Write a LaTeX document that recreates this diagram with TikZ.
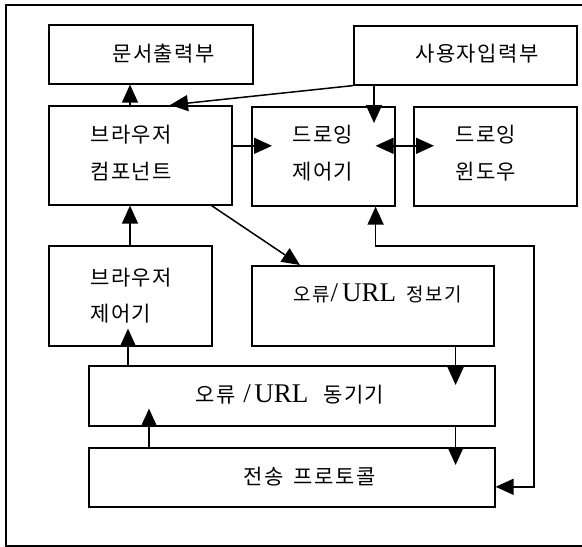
\documentclass[tikz,border=0pt]{standalone}
\usepackage{fontspec}
\setmainfont{Liberation Serif}
\newfontfamily\kr{Noto Sans CJK KR}
\usetikzlibrary{arrows.meta}
\tikzset{
  box/.style={draw, line width=1.6pt, inner sep=0pt, anchor=north west},
  txt/.style={inner sep=0pt, anchor=base west, font=\fontsize{27}{27}\selectfont},
  arr/.style={line width=1.5pt, -{Triangle[length=18pt,width=16pt]}},
  arrtwo/.style={line width=1.5pt, {Triangle[length=18pt,width=16pt]}-{Triangle[length=18pt,width=16pt]}},
  frame/.style={line width=1.2pt}
}
\newcommand{\hk}[1]{{\kr\fontsize{21}{21}\selectfont #1}}
\newcommand{\hks}[1]{{\kr\fontsize{19}{19}\selectfont #1}}
\newcommand{\g}{\hspace{1.5pt}}
\begin{document}
\begin{tikzpicture}[x=1pt,y=-1pt]
\useasboundingbox (0,0) rectangle (582,547);
% frame
\draw[frame] (582,5) -- (6,5) -- (6,546) -- (582,546);
% boxes
\node[box, minimum width=204pt, minimum height=59pt] (A) at (48,24) {};
\node[box, minimum width=223pt, minimum height=59pt] (B) at (353,25) {};
\node[box, minimum width=183pt, minimum height=99pt] (C) at (48,105) {};
\node[box, minimum width=143pt, minimum height=99pt] (D) at (251,106) {};
\node[box, minimum width=163pt, minimum height=99pt] (E) at (413,106) {};
\node[box, minimum width=163pt, minimum height=100pt] (F) at (48,245) {};
\node[box, minimum width=242pt, minimum height=80pt] (G) at (251,265) {};
\node[box, minimum width=406pt, minimum height=60pt] (H) at (88,365) {};
\node[box, minimum width=406pt, minimum height=59pt] (I) at (88,447) {};
% texts
\node[txt] (tA) at (112,61) {\hk{문\g 서\g 출\g 력\g 부}};
\node[txt] (tB) at (415,61) {\hk{사\g 용\g 자\g 입\g 력\g 부}};
\node[txt] (tC1) at (90,142) {\hk{브\g 라\g 우\g 저}};
\node[txt] (tC2) at (90,179) {\hk{컴\g 포\g 넌\g 트}};
\node[txt] (tD1) at (292,142) {\hk{드\g 로\g 잉}};
\node[txt] (tD2) at (292,179) {\hk{제\g 어\g 기}};
\node[txt] (tE1) at (455,142) {\hk{드\g 로\g 잉}};
\node[txt] (tE2) at (455,179) {\hk{윈\g 도\g 우}};
\node[txt] (tF1) at (90,285) {\hk{브\g 라\g 우\g 저}};
\node[txt] (tF2) at (90,321) {\hk{제\g 어\g 기}};
\node[txt] (tG) at (293,301) {\hks{오\g 류}\hspace{1pt}/\hspace{4pt}URL\hspace{10pt}\hks{정\g 보\g 기}};
\node[txt] (tH) at (195,402) {\hk{오\g 류}\hspace{8pt}/\hspace{3.5pt}URL\hspace{15pt}\hk{동\g 기\g 기}};
\node[txt] (tI) at (243,484) {\hk{전\g 송}\hspace{10.5pt}\hk{프\g 로\g 토\g 콜}};
% connectors
\coordinate (loopTR) at (534,246);
\draw[arr] ([xshift=82pt]C.north west) -- ([xshift=82pt]A.south west);
\draw[arr] (B.south west) -- ([xshift=122pt]C.north west);
\draw[arr] ([xshift=21pt]B.south west) -- ([xshift=123pt,yshift=-17pt]D.north west);
\draw[arr] ([yshift=9.5pt]C.east) -- ([xshift=21pt,yshift=10.5pt]D.west);
\draw[arrtwo] ([xshift=-20pt,yshift=10.5pt]D.east) -- ([xshift=21pt,yshift=10.5pt]E.west);
\draw[arr] ([xshift=-21pt]C.south east) -- ([xshift=49pt]G.north west);
\draw[arr] ([xshift=82pt]F.north west) -- ([xshift=82pt]C.south west);
\draw[arr] ([xshift=40pt]H.north west) -- ([xshift=80pt,yshift=18pt]F.south west);
\draw[arr] ([xshift=61pt]I.north west) -- ([xshift=61pt,yshift=18pt]H.south west);
\draw[arr] ([xshift=-39pt]G.south east) -- ([xshift=-40pt,yshift=-20pt]H.north east);
\draw[arr] ([xshift=-40pt]H.south east) -- ([xshift=-40pt,yshift=-18pt]I.north east);
\draw[arrtwo] ([xshift=-20pt]D.south east) |- (loopTR) |- ([yshift=-9.5pt]I.east);
\end{tikzpicture}
\end{document}
